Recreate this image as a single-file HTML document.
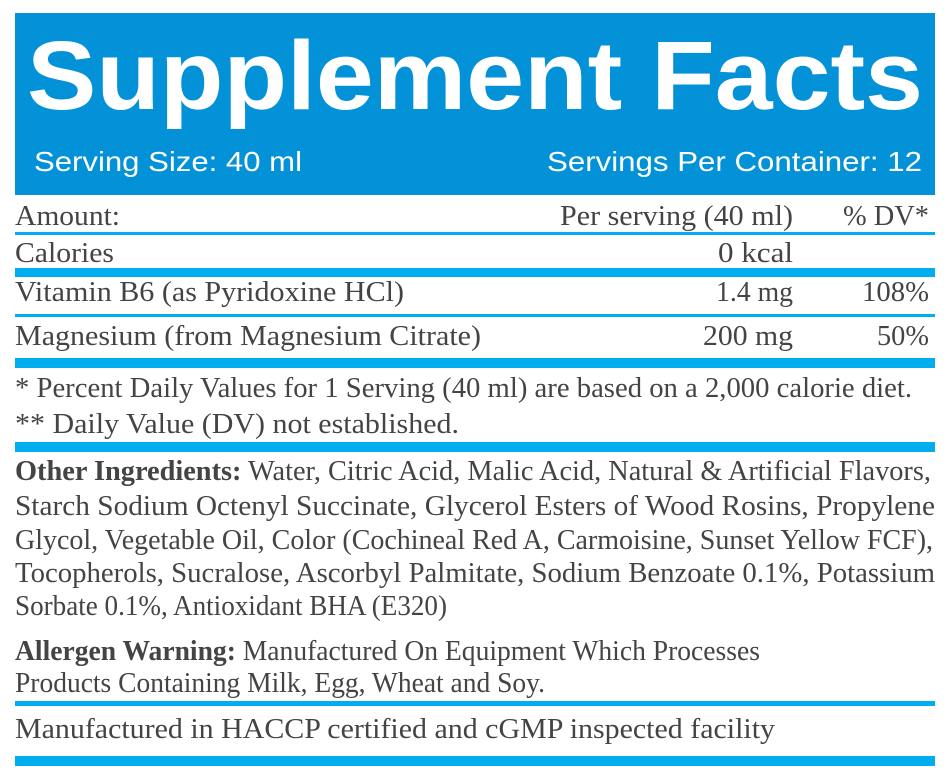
<!DOCTYPE html>
<html><head><meta charset="utf-8"><style>
html,body{margin:0;padding:0;background:#fff;width:951px;height:778px;overflow:hidden}
svg{display:block}
.s{font-family:"Liberation Serif",serif;font-size:29px;fill:#444}
.h{font-family:"Liberation Sans",sans-serif;fill:#fff}
</style></head><body>
<svg width="951" height="778" viewBox="0 0 951 778" xmlns="http://www.w3.org/2000/svg">
<rect x="15" y="13" width="920" height="182" fill="#0391d8"/>
<text class="h" x="27" y="109" font-size="97" font-weight="bold" textLength="896" lengthAdjust="spacingAndGlyphs">Supplement Facts</text>
<text class="h" x="34" y="171" font-size="28" textLength="268" lengthAdjust="spacingAndGlyphs">Serving Size: 40 ml</text>
<text class="h" x="547" y="171" font-size="28" textLength="375" lengthAdjust="spacingAndGlyphs">Servings Per Container: 12</text>

<g fill="#00aeef">
<rect x="15" y="232" width="920" height="3"/>
<rect x="15" y="268" width="920" height="9"/>
<rect x="15" y="314" width="920" height="3"/>
<rect x="15" y="358" width="920" height="10"/>
<rect x="15" y="442" width="920" height="10"/>
<rect x="15" y="701" width="920" height="5"/>
<rect x="15" y="756" width="920" height="10"/>
</g>

<g class="s">
<text x="15" y="225" textLength="105" lengthAdjust="spacingAndGlyphs">Amount:</text>
<text x="560" y="225" textLength="233" lengthAdjust="spacingAndGlyphs">Per serving (40 ml)</text>
<text x="843" y="225" textLength="86" lengthAdjust="spacingAndGlyphs">% DV*</text>
<text x="15" y="262" textLength="99" lengthAdjust="spacingAndGlyphs">Calories</text>
<text x="718" y="262" textLength="75" lengthAdjust="spacingAndGlyphs">0 kcal</text>
<text x="15" y="301" textLength="389" lengthAdjust="spacingAndGlyphs">Vitamin B6 (as Pyridoxine HCl)</text>
<text x="716" y="301" textLength="77" lengthAdjust="spacingAndGlyphs">1.4 mg</text>
<text x="862" y="301" textLength="67" lengthAdjust="spacingAndGlyphs">108%</text>
<text x="15" y="345" textLength="466" lengthAdjust="spacingAndGlyphs">Magnesium (from Magnesium Citrate)</text>
<text x="703" y="345" textLength="90" lengthAdjust="spacingAndGlyphs">200 mg</text>
<text x="877" y="345" textLength="52" lengthAdjust="spacingAndGlyphs">50%</text>
<text x="15" y="397" textLength="897" lengthAdjust="spacingAndGlyphs">* Percent Daily Values for 1 Serving (40 ml) are based on a 2,000 calorie diet.</text>
<text x="15" y="433" textLength="444" lengthAdjust="spacingAndGlyphs">** Daily Value (DV) not established.</text>

<text x="15" y="480" textLength="916" lengthAdjust="spacingAndGlyphs"><tspan font-weight="bold">Other Ingredients:</tspan> Water, Citric Acid, Malic Acid, Natural &amp; Artificial Flavors,</text>
<text x="15" y="515" textLength="920" lengthAdjust="spacingAndGlyphs">Starch Sodium Octenyl Succinate, Glycerol Esters of Wood Rosins, Propylene</text>
<text x="15" y="549" textLength="918" lengthAdjust="spacingAndGlyphs">Glycol, Vegetable Oil, Color (Cochineal Red A, Carmoisine, Sunset Yellow FCF),</text>
<text x="15" y="582" textLength="920" lengthAdjust="spacingAndGlyphs">Tocopherols, Sucralose, Ascorbyl Palmitate, Sodium Benzoate 0.1%, Potassium</text>
<text x="15" y="615" textLength="432" lengthAdjust="spacingAndGlyphs">Sorbate 0.1%, Antioxidant BHA (E320)</text>

<text x="15" y="660" textLength="745" lengthAdjust="spacingAndGlyphs"><tspan font-weight="bold">Allergen Warning:</tspan> Manufactured On Equipment Which Processes</text>
<text x="15" y="692" textLength="530" lengthAdjust="spacingAndGlyphs">Products Containing Milk, Egg, Wheat and Soy.</text>
<text x="15" y="738" textLength="760" lengthAdjust="spacingAndGlyphs">Manufactured in HACCP certified and cGMP inspected facility</text>
</g>
</svg>
</body></html>
